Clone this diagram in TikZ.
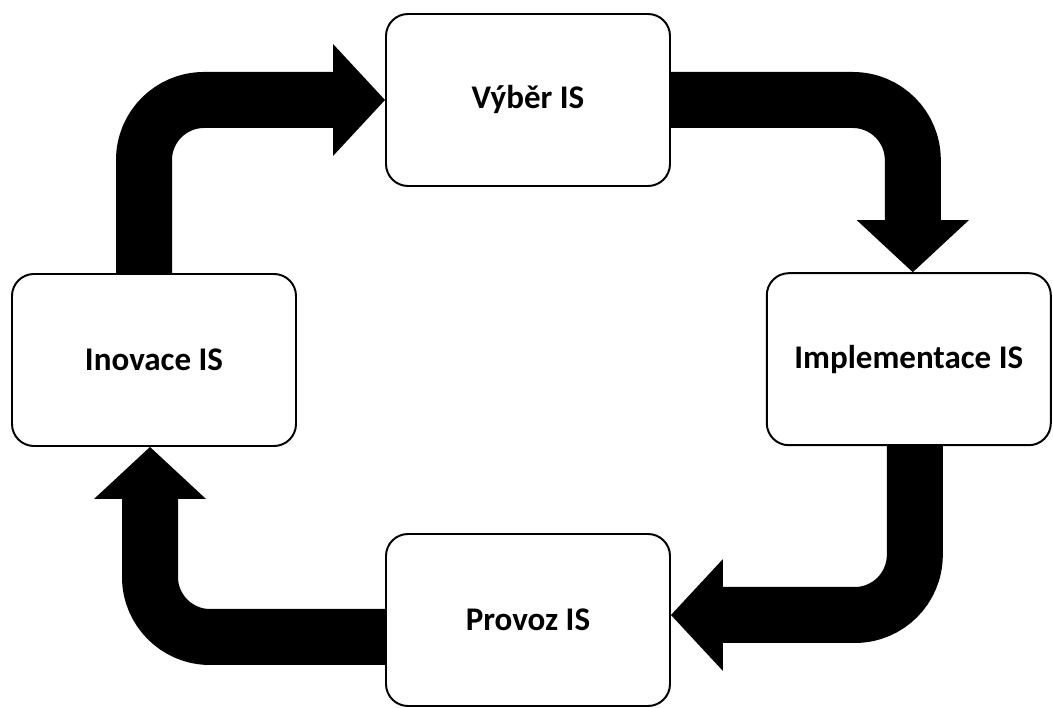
\documentclass[tikz,border=0pt]{standalone}
\usepackage{fontspec}
\setmainfont{Carlito}
\usetikzlibrary{arrows.meta,calc}

\begin{document}
\begin{tikzpicture}[
  font=\bfseries\fontsize{23.5}{28}\selectfont,
  phase/.style={draw=black, fill=white, rounded corners=5.5mm, line width=1.4pt,
    align=center, minimum width=7.1cm, minimum height=4.3cm, inner sep=4pt},
  bigarrow/.style={-{Triangle[length=1.3cm, width=2.8cm, line width=0pt]},
    line width=1.4cm, draw=black, rounded corners=1.5cm}
]
\useasboundingbox (0,0) rectangle (26.325,17.7);

\node[phase] (vyber) at (13.2,15.2) {Výběr IS};
\node[phase] (impl) at (22.72,8.72) {Implementace IS};
\node[phase] (provoz) at (13.2,2.2) {Provoz IS};
\node[phase] (inovace) at (3.85,8.7) {Inovace IS};

\draw[bigarrow] ($(inovace.north)+(-0.25,0)$) |- (vyber.west);
\draw[bigarrow] (vyber.east) -| ($(impl.north)+(0.1,0)$);
\draw[bigarrow] ($(impl.south)+(0.15,0)$) |- ($(provoz.east)+(0,0.125)$);
\draw[bigarrow] ($(provoz.west)+(0,-0.425)$) -| ($(inovace.south)+(-0.1,0)$);
\end{tikzpicture}
\end{document}
